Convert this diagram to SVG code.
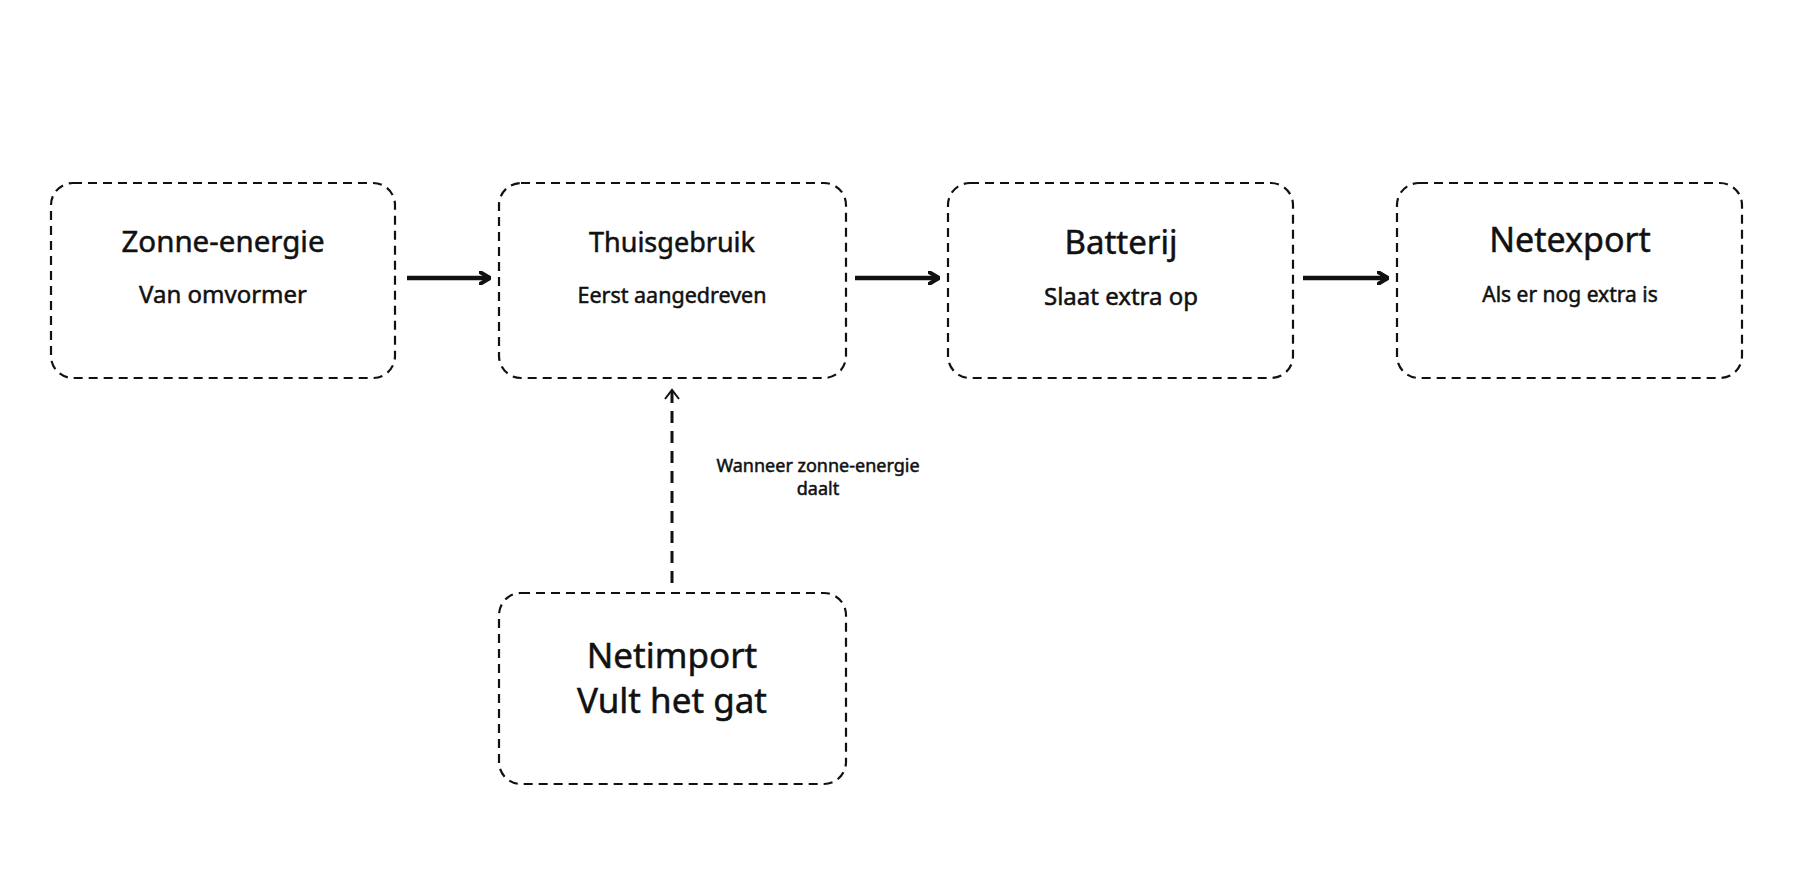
<svg xmlns="http://www.w3.org/2000/svg" width="1798" height="875" viewBox="0 0 1798 875">
<defs>
<style>
.box{fill:#fff;stroke:#111;stroke-width:2.2;stroke-dasharray:9 6}
.t{font-family:"Noto Sans","Open Sans",sans-serif;fill:#111;stroke:#111;stroke-width:0.5;text-anchor:middle}
.flow{stroke:#111;stroke-width:4.5;fill:none}
.dash{stroke:#111;stroke-width:3;fill:none;stroke-dasharray:12 8}
</style>
<marker id="ah" viewBox="0 0 12 14" refX="11" refY="7" markerWidth="12" markerHeight="14" markerUnits="userSpaceOnUse" orient="auto">
<path d="M1 1 L11 7 L1 13" fill="none" stroke="#111" stroke-width="4" stroke-linecap="round" stroke-linejoin="round"/>
</marker>
</defs>
<rect width="1798" height="875" fill="#fff"/>
<g id="connectors">
<line class="flow" x1="407" y1="278" x2="490" y2="278" marker-end="url(#ah)"/>
<line class="flow" x1="855" y1="278" x2="939" y2="278" marker-end="url(#ah)"/>
<line class="flow" x1="1303" y1="278" x2="1388" y2="278" marker-end="url(#ah)"/>
<line class="dash" x1="672" y1="583" x2="672" y2="392"/>
<path d="M665 399 L672 390 L679 399 M672 390 L672 402" fill="none" stroke="#111" stroke-width="2"/>
<text class="t" x="818" y="472" font-size="18" stroke-width="0.3">Wanneer zonne-energie</text>
<text class="t" x="818" y="495" font-size="18" stroke-width="0.3">daalt</text>
</g>
<g id="zonne">
<rect class="box" x="51" y="183" width="344" height="195" rx="22"/>
<text class="t" x="223" y="252" font-size="29.5">Zonne-energie</text>
<text class="t" x="223" y="303" font-size="24">Van omvormer</text>
</g>
<g id="thuis">
<rect class="box" x="499" y="183" width="347" height="195" rx="22"/>
<text class="t" x="672" y="252" font-size="27">Thuisgebruik</text>
<text class="t" x="672" y="303" font-size="21.5">Eerst aangedreven</text>
</g>
<g id="batterij">
<rect class="box" x="948" y="183" width="345" height="195" rx="22"/>
<text class="t" x="1121" y="254" font-size="33">Batterij</text>
<text class="t" x="1121" y="305" font-size="24">Slaat extra op</text>
</g>
<g id="netexport">
<rect class="box" x="1397" y="183" width="345" height="195" rx="22"/>
<text class="t" x="1570" y="252" font-size="34">Netexport</text>
<text class="t" x="1570" y="302" font-size="21">Als er nog extra is</text>
</g>
<g id="netimport">
<rect class="box" x="499" y="593" width="347" height="191" rx="22"/>
<text class="t" x="672" y="668" font-size="35">Netimport</text>
<text class="t" x="672" y="713" font-size="35">Vult het gat</text>
</g>
</svg>
